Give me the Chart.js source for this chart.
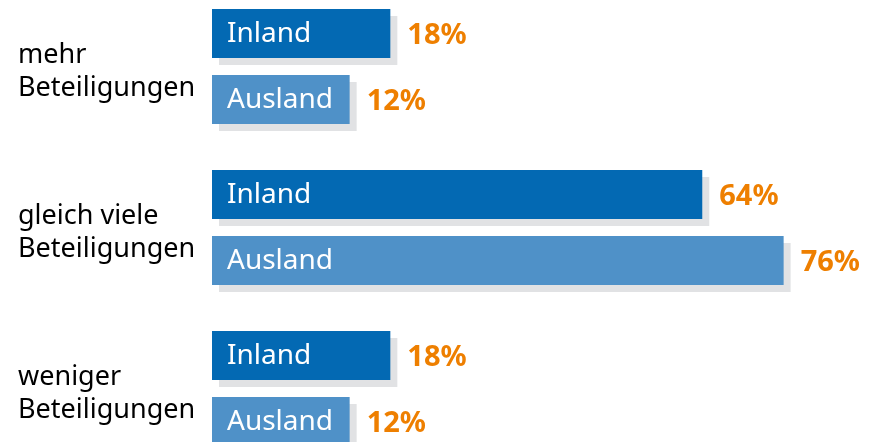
<!DOCTYPE html>
<html>
<head>
<meta charset="utf-8">
<style>
  html, body { margin: 0; padding: 0; background: #fff; overflow: hidden; }
  #wrap { position: absolute; left: 0; top: -14px; width: 869px; height: 483px; }
</style>
</head>
<body>
<div id="wrap"><canvas id="myChart"></canvas></div>
<script src="https://cdn.jsdelivr.net/npm/chart.js@4/dist/chart.umd.min.js"></script>
<script>
// data
var categories = [['mehr', 'Beteiligungen'], ['gleich viele', 'Beteiligungen'], ['weniger', 'Beteiligungen']];
var seriesNames = ['Inland', 'Ausland'];
var inland = [18, 64, 18];
var ausland = [12, 76, 12];

var AXIS_MIN = -8.3;   // bars start left of zero (room for the name inside the bar)
var AXIS_MAX = 88;

var FONT = '"Noto Sans", "Open Sans", sans-serif';

// gray drop shadow behind each bar
var shadowPlugin = {
  id: 'shadow',
  beforeDatasetsDraw: function (chart) {
    var ctx = chart.ctx;
    ctx.save();
    ctx.fillStyle = '#e1e2e4';
    chart.data.datasets.forEach(function (ds, i) {
      chart.getDatasetMeta(i).data.forEach(function (bar) {
        var top = bar.y - bar.height / 2;
        ctx.fillRect(bar.base + 7, top + 7, bar.x - bar.base, bar.height);
      });
    });
    ctx.restore();
  }
};

// series name inside the bar, value to the right
var labelPlugin = {
  id: 'labels',
  afterDatasetsDraw: function (chart) {
    var ctx = chart.ctx;
    ctx.save();
    ctx.textBaseline = 'middle';
    chart.data.datasets.forEach(function (ds, i) {
      chart.getDatasetMeta(i).data.forEach(function (bar, j) {
        ctx.font = '28px ' + FONT;
        ctx.fillStyle = '#ffffff';
        ctx.textAlign = 'left';
        ctx.fillText(ds.label, bar.base + 15, bar.y + 1);
        ctx.font = 'bold 29px ' + FONT;
        ctx.fillStyle = '#ee7f00';
        ctx.fillText(ds.data[j] + '%', bar.x + 17, bar.y + 2);
      });
    });
    ctx.restore();
  }
};

new Chart(document.getElementById('myChart'), {
  type: 'bar',
  data: {
    labels: categories,
    datasets: [{
      label: seriesNames[0],
      data: inland,
      base: AXIS_MIN,
      backgroundColor: '#0369b3'
    }, {
      label: seriesNames[1],
      data: ausland,
      base: AXIS_MIN,
      backgroundColor: '#4f91c8'
    }]
  },
  options: {
    indexAxis: 'y',
    responsive: true,
    maintainAspectRatio: false,
    animation: false,
    categoryPercentage: 0.82,
    barPercentage: 0.742,
    layout: { padding: { left: 18, right: 4, top: 0, bottom: 0 } },
    plugins: { legend: { display: false }, tooltip: { enabled: false } },
    scales: {
      x: { display: false, min: AXIS_MIN, max: AXIS_MAX },
      y: {
        grid: { display: false },
        border: { display: false },
        afterFit: function (scale) {
          scale.width = 194;
          scale.paddingTop = 0;
          scale.paddingBottom = 0;
        },
        ticks: {
          crossAlign: 'far',
          color: '#000000',
          padding: 0,
          labelOffset: 5,
          font: { family: FONT, size: 27, lineHeight: 1.22 }
        }
      }
    }
  },
  plugins: [shadowPlugin, labelPlugin]
});
</script>
</body>
</html>
